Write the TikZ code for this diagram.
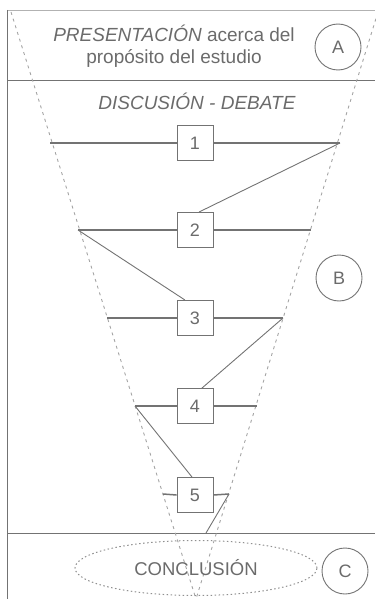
\documentclass[tikz,border=0pt]{standalone}
\usepackage{fontspec}
\setmainfont{Liberation Sans}
\usetikzlibrary{calc,shapes.geometric}
\definecolor{ln}{gray}{0.45}
\definecolor{tx}{gray}{0.42}
\tikzset{
  frame/.style={draw=ln, line width=0.9pt},
  bar/.style={draw=ln, line width=1.5pt},
  diag/.style={draw=ln, line width=0.9pt},
  funnel/.style={draw=ln!65, line width=0.9pt, dash pattern=on 3pt off 4pt},
  numbox/.style={draw=ln, line width=0.9pt, fill=white, minimum width=36pt, minimum height=35pt, inner sep=0pt, text=tx, font=\fontsize{18}{18}\selectfont},
  letter/.style={circle, draw=ln, line width=0.9pt, minimum size=46pt, inner sep=0pt, text=tx, font=\fontsize{18}{18}\selectfont},
  lbl/.style={text=tx, font=\fontsize{19}{22}\selectfont, align=center}
}
\begin{document}
\begin{tikzpicture}[x=1pt,y=-1pt]
\useasboundingbox (0,0) rectangle (375,599);
% frame lines
\coordinate (tl) at (7,10);
\coordinate (tr) at (375,10);
\coordinate (ml) at (7,80);
\coordinate (mr) at (375,80);
\coordinate (cl) at (7,533);
\coordinate (cr) at (375,533);
\coordinate (bl) at (7,599);
\draw[frame, draw=ln!55] (tl) -- (tr);
\draw[frame] (ml) -- (mr);
\draw[frame] (cl) -- (cr);
\draw[frame] (tl) -- (bl);
% funnel
\coordinate (fl) at (11,12);
\coordinate (fr) at (378,12);
\coordinate (fb) at (196,599);
\draw[funnel] (fl) -- (fb);
\draw[funnel] (fr) -- (fb);
% texts
\node[lbl] (pres) at (174,46) {\textit{PRESENTACIÓN} acerca del\\propósito del estudio};
\node[letter] (A) at (338,47) {A};
\node[lbl] (disc) at (197,101) {\textit{DISCUSIÓN - DEBATE}};
\node[letter] (B) at (339,278) {B};
% bars
\coordinate (l1) at (50,143);  \coordinate (r1) at (340,143);
\coordinate (l2) at (78,230);  \coordinate (r2) at (311,230);
\coordinate (l3) at (107,318); \coordinate (r3) at (283,318);
\coordinate (l4) at (135,406); \coordinate (r4) at (257,406);
\coordinate (l5) at (163,494); \coordinate (r5) at (229,494);
\coordinate (e5) at (206,533);
\node[numbox] (b1) at (195,143) {1};
\node[numbox] (b2) at (195,230) {2};
\node[numbox] (b3) at (195,318) {3};
\node[numbox] (b4) at (195,406) {4};
\node[numbox] (b5) at (195,495) {5};
\draw[bar] (l1) -- (b1.west) (b1.east) -- (r1);
\draw[bar] (l2) -- (b2.west) (b2.east) -- (r2);
\draw[bar] (l3) -- (b3.west) (b3.east) -- (r3);
\draw[bar] (l4) -- (b4.west) (b4.east) -- (r4);
\draw[bar] (l5) -- (b5.west) (b5.east) -- (r5);
% diagonals
\draw[diag] (r1) -- ($(b2.north)+(4,0)$);
\draw[diag] (l2) -- ($(b3.north)+(-10,0)$);
\draw[diag] (r3) -- ($(b4.north)+(7,0)$);
\draw[diag] (l4) -- ($(b5.north)+(-3,0)$);
\draw[diag] (r5) -- (e5);
% conclusion
\node[ellipse, draw=ln!80, line width=1pt, dash pattern=on 1.5pt off 2.5pt, minimum width=242pt, minimum height=55pt, text=tx, font=\fontsize{18.5}{18.5}\selectfont] (conc) at (196,568) {CONCLUSIÓN};
\node[letter] (C) at (345,571) {C};
\end{tikzpicture}
\end{document}
